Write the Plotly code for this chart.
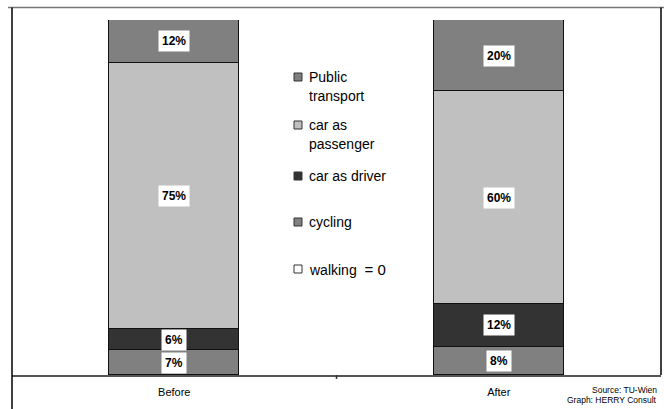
import plotly.graph_objects as go

# Modal split before and after, stacked bottom to top
periods = ["Before", "After"]
modes = ["walking", "cycling", "car as driver", "car as passenger", "Public transport"]
shares = {
    "walking": [0, 0],
    "cycling": [7, 8],
    "car as driver": [6, 12],
    "car as passenger": [75, 60],
    "Public transport": [12, 20],
}
colors = {
    "walking": "#ffffff",
    "cycling": "#808080",
    "car as driver": "#333333",
    "car as passenger": "#c0c0c0",
    "Public transport": "#808080",
}
# legend entries, top to bottom, with their wrapped lines
legend_entries = [
    ("Public transport", ["Public", "transport"]),
    ("car as passenger", ["car as", "passenger"]),
    ("car as driver", ["car as driver"]),
    ("cycling", ["cycling"]),
    ("walking", ["walking  <span style='font-size:15px'>= 0</span>"]),
]
source_lines = ["Source: TU-Wien", "Graph: HERRY Consult"]

FONT = "Liberation Sans, Arial, sans-serif"

# plot area in pixels (used to place the frame and legend in paper units)
W, H = 664, 409
L, R, T, B = 12, 3, 20, 34
PW, PH = W - L - R, H - T - B


def px(x):
    return (x - L) / PW


def py(y):
    return (H - B - y) / PH


fig = go.Figure()
for mode in modes:
    fig.add_trace(go.Bar(
        x=periods,
        y=shares[mode],
        name=mode,
        marker=dict(color=colors[mode], line=dict(color="#111111", width=1)),
        width=0.4,
        hoverinfo="skip",
        showlegend=False,
    ))

# percentage labels in white boxes, centred in each segment
annotations = []
for j, period in enumerate(periods):
    base = 0
    for mode in modes:
        v = shares[mode][j]
        if v > 0:
            annotations.append(dict(
                x=period, y=base + v / 2, xref="x", yref="y",
                text=f"<b>{v}%</b>", showarrow=False,
                font=dict(family=FONT, size=12, color="#000000"),
                bgcolor="#ffffff", borderpad=3,
            ))
        base += v

shapes = []

# legend: small bordered squares with wrapped labels
legend_y = [77, 125, 176, 222, 269]
for (mode, lines), y in zip(legend_entries, legend_y):
    shapes.append(dict(
        type="rect", xref="paper", yref="paper",
        x0=px(294), x1=px(302), y0=py(y - 4), y1=py(y + 4),
        fillcolor=colors[mode], line=dict(color="#333333", width=1),
    ))
    for k, line in enumerate(lines):
        annotations.append(dict(
            x=px(307), y=py(y + 19 * k), xref="paper", yref="paper",
            xanchor="left", yanchor="middle", text=line, showarrow=False,
            font=dict(family=FONT, size=14, color="#000000"),
        ))

# source note, bottom right
for k, line in enumerate(source_lines):
    annotations.append(dict(
        x=px(659), y=py(390 + 10.5 * k), xref="paper", yref="paper",
        xanchor="right", yanchor="middle", text=line, showarrow=False,
        font=dict(family=FONT, size=8.5, color="#000000"),
    ))

# outer frame: top, left and right lines
shapes += [
    dict(type="line", xref="paper", yref="paper", x0=px(8), x1=px(664), y0=py(7.5), y1=py(7.5),
         line=dict(color="#777777", width=1.5)),
    dict(type="line", xref="paper", yref="paper", x0=px(12), x1=px(12), y0=py(7.5), y1=py(409),
         line=dict(color="#000000", width=1.5)),
    dict(type="line", xref="paper", yref="paper", x0=px(661), x1=px(661), y0=py(7.5), y1=py(375),
         line=dict(color="#000000", width=1.5)),
    # centre tick between the two categories
    dict(type="line", xref="paper", yref="paper", x0=0.5, x1=0.5, y0=0, y1=py(379),
         line=dict(color="#333333", width=1.5)),
]

fig.update_layout(
    width=W, height=H,
    margin=dict(l=L, r=R, t=T, b=B),
    paper_bgcolor="#ffffff", plot_bgcolor="#ffffff",
    barmode="stack", bargap=0,
    font=dict(family=FONT, size=12, color="#000000"),
    showlegend=False,
    xaxis=dict(
        type="category", range=[-0.5, 1.5],
        showgrid=False, zeroline=False,
        showline=True, linecolor="#555555", linewidth=1.5,
        ticks="", ticklabelstandoff=6,
        tickfont=dict(family=FONT, size=11, color="#000000"),
    ),
    yaxis=dict(range=[0, 100], visible=False, showgrid=False, zeroline=False),
    annotations=annotations,
    shapes=shapes,
)

fig.write_html("out.html")
